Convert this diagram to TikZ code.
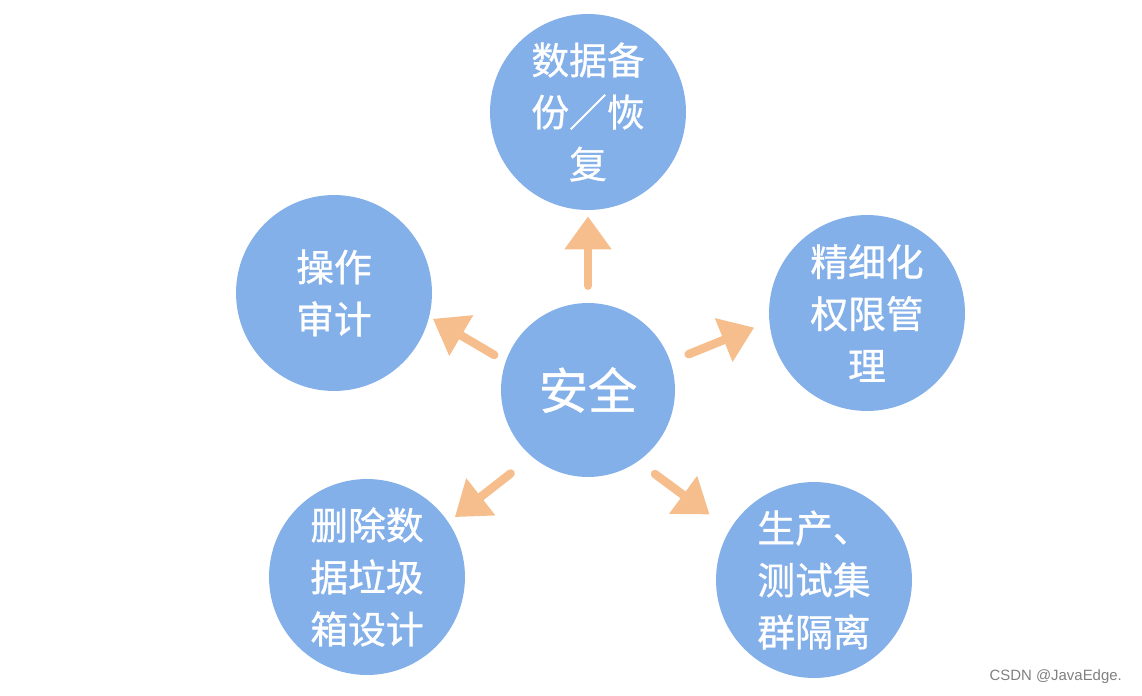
\documentclass[tikz,border=0pt]{standalone}
\usepackage{fontspec}
\usepackage{tikz}
\usetikzlibrary{arrows.meta, positioning}
\newfontfamily\cjk[FakeBold=0.8]{Noto Sans CJK SC}
\setsansfont{Liberation Sans}
\definecolor{circblue}{RGB}{132, 176, 234}
\definecolor{arrowpeach}{RGB}{245, 190, 140}

\begin{document}
\begin{tikzpicture}[
    x=0.02cm, y=-0.02cm,
    circ/.style={circle, fill=circblue, minimum size=3.92cm, inner sep=0pt,
                 align=center, text=white, font=\cjk\fontsize{21.5}{29.6}\selectfont},
    hubcirc/.style={circ, minimum size=3.48cm, font=\cjk\fontsize{28}{34}\selectfont},
    arrow/.style={-{Triangle[length=0.66cm, width=0.9cm]}, line width=0.17cm,
                  line cap=round, arrowpeach}
]
\useasboundingbox (0,0) rectangle (1142,696);

\node[hubcirc] (hub) at (588,390) {安全};
\node[circ] (backup) at (588,112) {数据备\\份／恢\\复};
\node[circ] (audit) at (334,293) {操作\\审计};
\node[circ] (perm) at (867,313) {精细化\\权限管\\理};
\node[circ] (trash) at (367,577) {删除数\\据垃圾\\箱设计};
\node[circ] (isolate) at (814,580) {生产、\\测试集\\群隔离};

\draw[arrow, shorten <=0.34cm, shorten >=0.12cm] (hub.90) -- (backup.-90);
\draw[arrow, shorten <=0.26cm, shorten >=0.08cm] (hub.161) -- (audit.-14);
\draw[arrow, shorten <=0.39cm, shorten >=0.32cm] (hub.19) -- (perm.185);
\draw[arrow, shorten <=0.54cm, shorten >=0.16cm] (hub.230) -- (trash.34);
\draw[arrow, shorten <=0.42cm, shorten >=0.5cm] (hub.-55) -- (isolate.149);

\node[anchor=east, text=gray, font=\sffamily\fontsize{8.5}{10}\selectfont] (mark) at (1128,677) {CSDN @JavaEdge.};
\end{tikzpicture}
\end{document}
